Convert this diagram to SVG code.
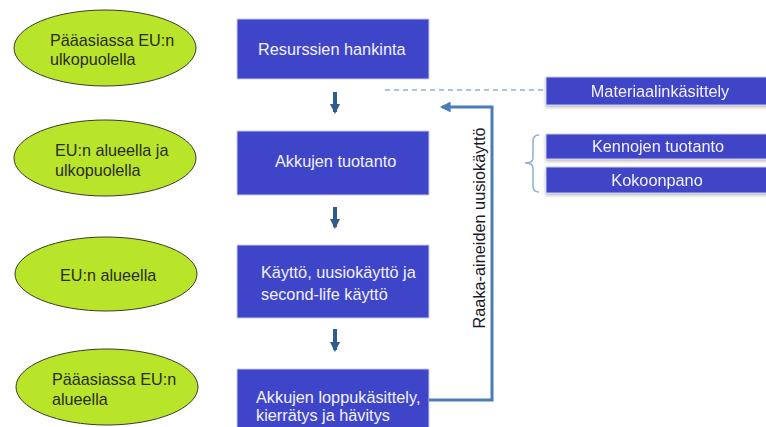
<svg xmlns="http://www.w3.org/2000/svg" width="766" height="427" viewBox="0 0 766 427">
<style>
.ell{fill:#B8E52A;stroke:#3a3a2a;stroke-width:1}
.et{font-family:"Liberation Sans",Arial,sans-serif;font-size:16.2px;fill:#2b2b1a}
.box{fill:#3F45C8;stroke:#C9CCF2;stroke-width:1}
.bt{font-family:"Liberation Sans",Arial,sans-serif;font-size:16.3px;fill:#F2F2FF}
.down{fill:none;stroke:#2E5C8F;stroke-width:4}
</style>
<defs>
<marker id="dh" viewBox="0 0 10 10" refX="8" refY="5" markerWidth="2.6" markerHeight="2.6" orient="auto" markerUnits="strokeWidth">
<path d="M0,0 L10,5 L0,10 z" fill="#2E5C8F"/>
</marker>
<marker id="fh" viewBox="0 0 10 10" refX="8" refY="5" markerWidth="4" markerHeight="3.6" orient="auto" markerUnits="strokeWidth">
<path d="M0,0 L10,5 L0,10 z" fill="#4A7DB8"/>
</marker>
<filter id="sh" x="-5%" y="-20%" width="110%" height="150%">
<feDropShadow dx="0" dy="2" stdDeviation="1.5" flood-color="#000" flood-opacity="0.25"/>
</filter>
</defs>

<g id="e1"><ellipse class="ell" cx="105" cy="48" rx="91" ry="38"/><text class="et" x="50" y="46">Pääasiassa EU:n</text><text class="et" x="50" y="65">ulkopuolella</text></g>
<g id="e2"><ellipse class="ell" cx="105" cy="158" rx="91" ry="38"/><text class="et" x="55" y="156">EU:n alueella ja</text><text class="et" x="55" y="176">ulkopuolella</text></g>
<g id="e3"><ellipse class="ell" cx="106" cy="274" rx="91" ry="37"/><text class="et" x="60" y="281">EU:n alueella</text></g>
<g id="e4"><ellipse class="ell" cx="107" cy="387" rx="91" ry="38"/><text class="et" x="52" y="385">Pääasiassa EU:n</text><text class="et" x="52" y="405">alueella</text></g>

<g id="b1"><rect class="box" x="237" y="19" width="192" height="60"/><text class="bt" x="258" y="55">Resurssien hankinta</text></g>
<g id="b2"><rect class="box" x="237" y="131" width="192" height="64"/><text class="bt" x="275" y="167">Akkujen tuotanto</text></g>
<g id="b3"><rect class="box" x="237" y="245" width="192" height="73"/><text class="bt" x="261" y="278">Käyttö, uusiokäyttö ja</text><text class="bt" x="261" y="300">second-life käyttö</text></g>
<g id="b4"><rect class="box" x="237" y="369" width="192" height="62"/><text class="bt" x="256" y="403">Akkujen loppukäsittely,</text><text class="bt" x="256" y="421">kierrätys ja hävitys</text></g>

<g id="r1" filter="url(#sh)"><rect class="box" x="546" y="77" width="224" height="28"/><text class="bt" x="660" y="97" text-anchor="middle">Materiaalinkäsittely</text></g>
<g id="r2" filter="url(#sh)"><rect class="box" x="546" y="134" width="224" height="25"/><text class="bt" x="658" y="152" text-anchor="middle">Kennojen tuotanto</text></g>
<g id="r3" filter="url(#sh)"><rect class="box" x="546" y="167" width="224" height="26"/><text class="bt" x="657" y="186" text-anchor="middle">Kokoonpano</text></g>

<g id="connectors">
<line class="down" x1="335" y1="92" x2="335" y2="112" marker-end="url(#dh)"/>
<line class="down" x1="335" y1="207" x2="335" y2="227" marker-end="url(#dh)"/>
<line class="down" x1="335" y1="329" x2="335" y2="350" marker-end="url(#dh)"/>
<line x1="385" y1="90" x2="546" y2="90" stroke="#93AFCF" stroke-width="1.5" stroke-dasharray="5,4"/>
<polyline points="429,400 492,400 492,107 442,107" fill="none" stroke="#4A7DB8" stroke-width="3" marker-end="url(#fh)"/>
<path d="M539,135 Q533,135 533,141 L533,158 Q533,163 525,163 Q533,163 533,168 L533,186 Q533,192 539,192" fill="none" stroke="#8FAED2" stroke-width="1.5"/>
<text x="485" y="228" transform="rotate(-90 485 228)" text-anchor="middle" font-family="'Liberation Sans',Arial,sans-serif" font-size="16.3" fill="#1a1a2a">Raaka-aineiden uusiokäyttö</text>
</g>
</svg>
